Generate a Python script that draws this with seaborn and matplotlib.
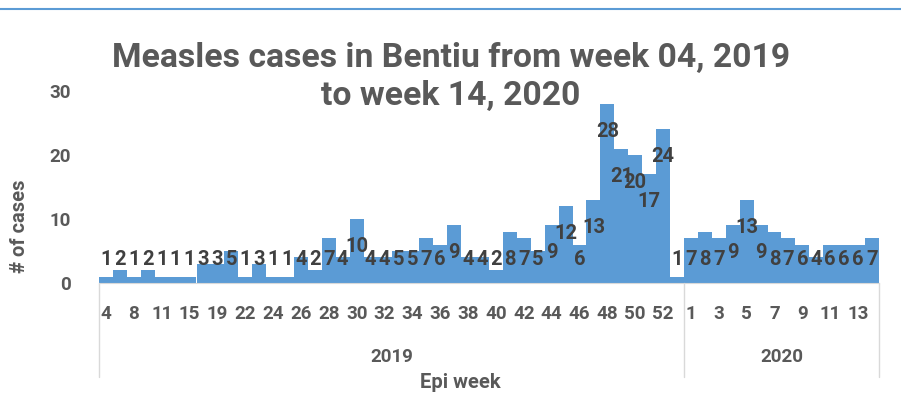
import matplotlib
matplotlib.use("Agg")
import matplotlib.pyplot as plt
from matplotlib.lines import Line2D
import numpy as np
import pandas as pd
import seaborn as sns

# --- data -------------------------------------------------------------
weeks_2019 = [4, 6, 8, 10, 11, 13, 15, 17, 19, 21, 22, 23, 24, 25, 26, 27, 28,
              29, 30, 31, 32, 33, 34, 35, 36, 37, 38, 39, 40, 41, 42, 43, 44,
              45, 46, 47, 48, 49, 50, 51, 52, 53]
cases_2019 = [1, 2, 1, 2, 1, 1, 1, 3, 3, 5, 1, 3, 1, 1, 4, 2, 7, 4, 10, 4,
              4, 5, 5, 7, 6, 9, 4, 4, 2, 8, 7, 5, 9, 12, 6, 13, 28, 21, 20, 17,
              24, 1]
weeks_2020 = list(range(1, 15))
cases_2020 = [7, 8, 7, 9, 13, 9, 8, 7, 6, 4, 6, 6, 6, 7]
years = ["2019", "2020"]

df = pd.DataFrame({
    "year": ["2019"] * len(weeks_2019) + ["2020"] * len(weeks_2020),
    "week": weeks_2019 + weeks_2020,
    "cases": cases_2019 + cases_2020,
})
df["key"] = df["year"] + "-" + df["week"].astype(str).str.zfill(2)

BLUE = "#5B9BD5"
GREY = "#595959"
DARK = "#404040"
LINE = "#D9D9D9"

sns.set_style("white")
plt.rcParams["font.family"] = ["Roboto", "DejaVu Sans"]
plt.rcParams["font.weight"] = "bold"

fig = plt.figure(figsize=(9.01, 4.07), dpi=100)
ax = fig.add_axes([99 / 901, 1 - 283 / 407, 780 / 901, 192 / 407])

sns.barplot(data=df, x="key", y="cases", order=df["key"], color=BLUE,
            saturation=1, width=1.0, linewidth=0, ax=ax)

n = len(df)
ax.set_xlim(-0.5, n - 0.5)
ax.set_ylim(0, 30)

# data labels (inside end, pushed up for short bars)
for i, v in enumerate(df["cases"]):
    ax.text(i, max(v - 4.3, 3.6), str(v), ha="center", va="center",
            fontsize=14.5, fontweight="bold", color=DARK)

# week ticks: every other category
pos = np.arange(0, n, 2)
ax.set_xticks(pos)
ax.set_xticklabels(df["week"].iloc[pos].astype(str))
ax.tick_params(axis="x", length=0, pad=16, labelsize=13.5, labelcolor=GREY)
ax.set_yticks([0, 10, 20, 30])
ax.tick_params(axis="y", length=0, pad=20, labelsize=13.5, labelcolor=GREY)
for lab in ax.get_xticklabels() + ax.get_yticklabels():
    lab.set_fontweight("bold")

for s in ["top", "right", "left"]:
    ax.spines[s].set_visible(False)
ax.spines["bottom"].set_color(LINE)
ax.set_xlabel("")
ax.set_ylabel("")

# year grouping lines and labels
trans = ax.get_xaxis_transform()
n19 = len(weeks_2019)
for xb in [-0.5, n19 - 0.5, n - 0.5]:
    ax.add_line(Line2D([xb, xb], [0, -0.49], transform=trans, color=LINE,
                       lw=1, clip_on=False))
for yr, (a, b) in zip(years, [(-0.5, n19 - 0.5), (n19 - 0.5, n - 0.5)]):
    ax.text((a + b) / 2, -0.385, yr, transform=trans, ha="center",
            va="center", fontsize=13.5, fontweight="bold", color=GREY)

fig.text(460 / 901, 1 - 383 / 407, "Epi week", ha="center", va="center",
         fontsize=14.5, fontweight="bold", color=GREY)
fig.text(20 / 901, 1 - 226 / 407, "# of cases", ha="center", va="center",
         rotation=90, fontsize=14.5, fontweight="bold", color=GREY)

fig.text(451 / 901, 1 - 77 / 407,
         "Measles cases in Bentiu from week 04, 2019\nto week 14, 2020",
         ha="center", va="center", fontsize=24.3, fontweight="bold",
         color=GREY, linespacing=1.25)

fig.add_artist(Line2D([0, 1], [1 - 9 / 407] * 2, color=BLUE, lw=1.5,
                      transform=fig.transFigure))

fig.savefig("out.png", dpi=100)
